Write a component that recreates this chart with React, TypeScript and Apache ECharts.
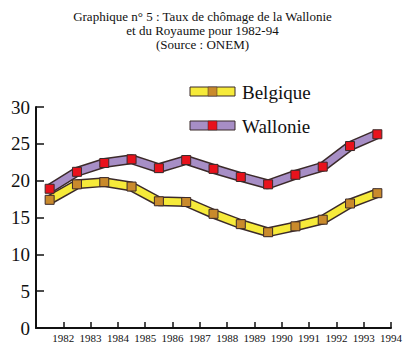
import React, { useEffect, useRef } from "react";
import * as echarts from "echarts";

const years = ["1982", "1983", "1984", "1985", "1986", "1987", "1988", "1989", "1990", "1991", "1992", "1993", "1994"];
const belgique = [17.4, 19.5, 19.8, 19.2, 17.2, 17.1, 15.5, 14.1, 13.0, 13.8, 14.7, 16.9, 18.3];
const wallonie = [18.9, 21.2, 22.4, 22.9, 21.7, 22.8, 21.6, 20.5, 19.5, 20.8, 21.9, 24.7, 26.3];
const titleLines = [
  "Graphique n° 5 : Taux de chômage de la Wallonie",
  "et du Royaume pour 1982-94",
  "(Source : ONEM)",
];
const seriesNames = ["Belgique", "Wallonie"];

const OUTLINE = "#3b2a2a";
const YELLOW = "#f6ea3a";
const BROWN = "#c98a2c";
const PURPLE = "#a78ec6";
const RED = "#e8121c";
const FONT = "'Liberation Serif', 'DejaVu Serif', serif";

function pts(vals: number[]) {
  return vals.map((v, i) => [i + 0.5, v]);
}

function makeSeries(name: string, vals: number[], band: string, marker: string) {
  return [
    {
      name: name + "-outline",
      type: "line",
      data: pts(vals),
      symbol: "none",
      lineStyle: { color: OUTLINE, width: 10 },
      z: 2,
      silent: true,
    },
    {
      name,
      type: "line",
      data: pts(vals),
      symbol: "rect",
      symbolSize: 9,
      itemStyle: { color: marker, borderColor: OUTLINE, borderWidth: 1 },
      lineStyle: { color: band, width: 7 },
      z: 3,
    },
  ];
}

function legendItem(y: number, label: string, band: string, marker: string) {
  return [
    { type: "rect", shape: { x: 190, y, width: 45, height: 9 }, style: { fill: band, stroke: OUTLINE, lineWidth: 1 } },
    { type: "rect", shape: { x: 208, y, width: 9, height: 9 }, style: { fill: marker, stroke: OUTLINE, lineWidth: 0.5 } },
    {
      type: "text",
      x: 242,
      y: y + 5,
      style: { text: label, fill: "#111", font: `19px ${FONT}`, textVerticalAlign: "middle" },
    },
  ];
}

export default function App() {
  const ref = useRef<HTMLDivElement>(null);
  useEffect(() => {
    if (!ref.current) return;
    const chart = echarts.init(ref.current, undefined, { renderer: "svg" });
    chart.setOption({
      animation: false,
      backgroundColor: "#ffffff",
      title: {
        text: titleLines.join("\n"),
        left: "center",
        top: 4,
        textStyle: { fontFamily: FONT, fontSize: 13, fontWeight: "normal", color: "#111", lineHeight: 14 },
      },
      grid: { left: 36, right: 14, top: 107, bottom: 23, containLabel: false },
      xAxis: {
        type: "value",
        min: 0,
        max: years.length,
        interval: 1,
        axisLine: { lineStyle: { color: "#111", width: 2 } },
        axisTick: { inside: true, length: 6, lineStyle: { color: "#111", width: 1.5 } },
        axisLabel: {
          formatter: (v: number) => (v >= 1 && v <= years.length ? years[v - 1] : ""),
          fontFamily: FONT,
          fontSize: 11,
          color: "#111",
          margin: 4,
          showMinLabel: true,
          showMaxLabel: true,
        },
        splitLine: { show: false },
      },
      yAxis: {
        type: "value",
        min: 0,
        max: 30,
        interval: 5,
        axisLine: { show: true, lineStyle: { color: "#111", width: 2 } },
        axisTick: { show: true, inside: true, length: 8, lineStyle: { color: "#111", width: 1.5 } },
        axisLabel: { fontFamily: FONT, fontSize: 19, color: "#111", margin: 6 },
        splitLine: { show: false },
      },
      graphic: [
        ...legendItem(87, seriesNames[0], YELLOW, BROWN),
        ...legendItem(121, seriesNames[1], PURPLE, RED),
      ],
      series: [
        ...makeSeries(seriesNames[1], wallonie, PURPLE, RED),
        ...makeSeries(seriesNames[0], belgique, YELLOW, BROWN),
      ],
    });
    return () => chart.dispose();
  }, []);
  return <div ref={ref} style={{ position: "fixed", left: 0, top: 0, width: 405, height: 351 }} />;
}
